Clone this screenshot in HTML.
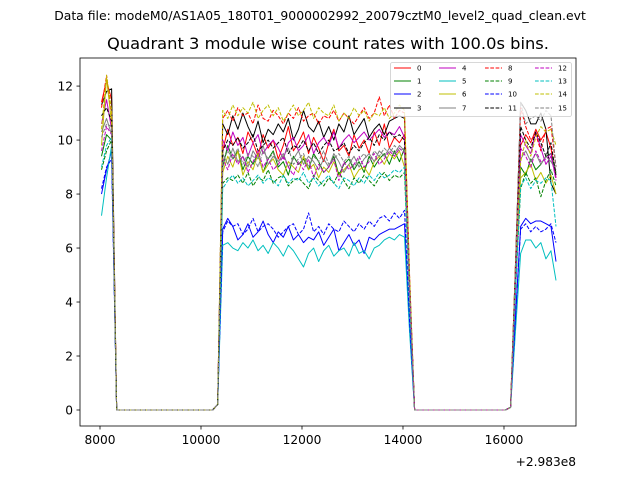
<!DOCTYPE html>
<html><head><meta charset="utf-8"><style>
html,body{margin:0;padding:0;background:#fff;}
svg{display:block;font-family:"DejaVu Sans","Liberation Sans",sans-serif;}
</style></head><body>
<svg id="chart" width="640" height="480" viewBox="0 0 640 480">
<rect x="0" y="0" width="640" height="480" fill="#fff"/>
<text x="320" y="20" text-anchor="middle" font-size="12.4">Data file: modeM0/AS1A05_180T01_9000002992_20079cztM0_level2_quad_clean.evt</text>
<text x="328" y="49" text-anchor="middle" font-size="16.3">Quadrant 3 module wise count rates with 100.0s bins.</text>
<g id="plot"></g>
<g id="axes"></g>
<g id="legend"></g>
</svg>
<script>
const binStart = 8030;
const binWidth = 100;
const gap1Zeros = 20;
const gap2Zeros = 19;
const xTicks = [8000, 10000, 12000, 14000, 16000];
const xTickLabels = ["8000", "10000", "12000", "14000", "16000"];
const yTicks = [0, 2, 4, 6, 8, 10, 12];
const yTickLabels = ["0", "2", "4", "6", "8", "10", "12"];
const seriesNames = ["0","1","2","3","4","5","6","7","8","9","10","11","12","13","14","15"];
const leftVals = [
[11.4,12.2,11.5],[9.4,10.2,10.0],[8.0,8.9,9.6],[11.3,11.8,11.9],
[10.6,11.5,10.4],[7.2,8.6,9.8],[9.8,12.3,10.6],[10.3,10.8,10.2],
[11.2,12.4,11.0],[8.9,9.6,10.0],[8.2,9.0,9.3],[10.9,11.2,10.7],
[9.6,10.5,10.2],[9.0,9.8,10.1],[10.4,12.4,11.1],[10.1,10.6,10.5]];
const midVals = [
[0.2,9.6,10.4,9.8,10.1,9.5,10.3,9.9,9.4,10.2,9.7,10.0,9.3,9.8,10.5,9.6,9.9,10.3,9.5,10.1,9.7,9.2,9.9,10.4,9.6,9.8,9.4,10.2,9.7,10.0,9.5,10.3,9.8,10.6,9.7,10.1,9.9,10.2,4.5],
[0.2,9.0,9.8,9.3,9.6,8.9,9.4,9.1,9.5,8.8,9.3,9.6,9.0,9.2,8.7,9.4,9.1,9.3,8.9,9.5,9.2,8.8,9.0,9.4,8.7,9.1,9.3,8.9,9.2,8.8,9.4,9.0,9.3,9.5,9.1,9.6,9.2,9.7,4.3],
[0.2,6.7,7.1,6.8,6.3,6.5,6.9,6.4,6.6,7.0,6.5,6.2,6.6,6.4,6.8,6.3,6.5,6.2,6.4,6.3,6.6,6.1,6.4,6.7,5.9,6.2,6.5,6.1,6.3,5.8,6.4,6.3,6.5,6.6,6.7,6.7,6.8,6.9,3.1],
[0.2,10.6,10.2,10.9,10.4,11.0,10.5,10.1,10.7,9.9,10.4,10.2,10.6,10.3,10.8,10.0,10.4,11.1,10.5,10.3,10.7,10.1,10.5,10.0,10.6,10.3,10.9,10.2,10.5,10.8,10.1,10.4,10.6,10.2,10.7,10.8,10.9,10.8,4.8],
[0.2,10.0,9.6,10.3,9.8,10.1,9.4,9.9,10.2,9.5,9.8,10.0,9.7,9.3,9.9,10.1,9.6,9.8,10.2,9.5,9.9,10.1,9.8,10.3,9.7,10.0,10.2,9.9,10.1,10.3,10.0,10.2,10.4,10.1,10.3,10.2,10.5,10.1,4.6],
[0.2,6.1,6.2,6.0,5.9,6.2,6.0,6.3,5.9,6.1,5.8,6.2,6.0,5.7,6.1,5.9,5.6,5.3,5.8,6.0,5.5,5.9,6.1,5.7,5.9,6.0,5.7,6.2,5.8,5.9,5.6,6.0,6.1,6.3,6.4,6.3,6.5,6.4,2.9],
[0.2,8.8,9.4,9.0,9.6,8.7,9.2,8.9,9.5,8.8,9.1,9.3,8.9,8.7,9.2,9.0,8.8,9.4,8.9,9.1,8.6,9.0,8.8,9.2,8.7,8.9,9.1,8.6,8.9,9.0,8.7,9.2,9.4,9.1,9.5,9.3,9.6,9.0,4.2],
[0.2,9.5,9.1,9.7,9.2,9.4,9.0,9.6,9.3,9.8,9.1,9.4,9.2,9.5,9.0,9.3,9.6,9.1,9.4,9.2,8.9,9.3,9.0,9.5,9.2,8.8,9.1,9.4,9.0,9.3,9.5,9.2,9.6,9.4,9.7,9.5,9.8,9.6,4.4],
[0.2,10.8,11.1,10.7,11.2,10.9,11.0,10.6,11.3,10.8,10.7,11.1,10.9,10.6,11.0,10.8,11.2,10.7,10.9,11.0,10.6,10.9,10.8,11.1,10.7,11.0,10.8,10.6,10.9,11.2,10.8,11.0,11.6,10.9,11.3,10.8,11.1,11.0,5.0],
[0.2,8.4,8.6,8.5,8.7,8.4,8.8,8.3,8.6,8.5,8.9,8.4,8.6,8.7,8.3,8.5,8.6,8.4,8.2,8.7,8.5,8.3,8.6,8.4,8.8,8.5,8.2,8.6,8.4,8.7,8.5,8.3,8.6,8.8,8.5,8.7,8.6,8.8,4.0],
[0.2,6.6,7.0,6.8,6.9,6.5,6.7,7.1,6.6,6.8,6.9,6.7,6.4,6.6,6.8,6.9,6.5,6.7,7.3,6.6,6.8,6.5,6.9,6.7,6.6,7.0,6.8,6.6,6.9,6.7,7.0,6.8,7.1,7.2,7.0,7.3,7.1,7.4,3.3],
[0.2,9.6,10.0,9.8,10.1,9.7,9.9,10.2,9.6,9.8,10.0,9.7,9.9,10.1,9.5,9.8,9.7,10.0,9.6,9.9,9.5,9.8,10.0,9.6,9.7,9.9,9.5,9.8,9.6,9.9,10.1,9.8,10.2,10.0,10.3,10.1,10.2,10.0,4.6],
[0.2,9.3,8.9,9.5,9.1,9.4,8.8,9.2,9.6,9.0,9.3,8.9,9.1,9.4,9.0,8.7,9.2,8.9,9.3,8.6,9.1,8.8,9.0,9.3,8.5,9.2,8.9,9.1,9.4,9.0,9.2,9.5,9.1,9.3,9.6,9.4,9.7,9.5,4.4],
[0.2,8.2,8.5,8.7,8.4,8.6,8.3,8.5,8.7,8.4,8.6,8.5,8.3,8.7,8.4,8.6,8.5,8.8,8.4,8.6,8.3,8.5,8.7,8.4,8.2,8.6,8.5,8.3,8.6,8.4,8.7,8.5,8.8,8.6,8.7,8.9,8.8,9.0,4.1],
[0.2,11.1,10.8,11.3,10.9,11.2,11.0,11.4,10.8,11.1,11.3,10.9,11.2,10.7,11.0,11.3,10.9,11.1,11.4,10.8,11.2,11.0,10.9,11.3,10.7,11.0,10.8,11.2,10.9,11.1,10.7,11.0,10.9,11.2,10.8,11.0,11.3,11.1,5.0],
[0.2,9.2,9.6,9.3,9.7,9.1,9.5,9.4,9.0,9.6,9.3,9.5,9.2,9.4,9.7,9.1,9.3,9.5,9.0,9.4,9.2,9.6,9.1,9.3,9.5,9.2,9.4,9.0,9.3,9.5,9.2,9.6,9.4,9.7,9.5,9.8,9.6,9.7,4.5]];
const rightVals = [
[0.1,5.0,9.8,10.2,9.9,10.4,10.0,10.3,9.7,8.6],
[0.1,4.5,9.0,8.7,9.3,8.9,9.1,9.4,9.5,8.8],
[0.1,3.5,6.8,7.1,6.9,7.0,7.0,6.9,6.8,5.5],
[0.1,5.5,11.4,11.1,10.6,10.6,11.0,10.4,8.4,8.0],
[0.1,5.0,10.2,9.8,9.5,10.3,9.7,9.1,9.4,8.6],
[0.1,3.0,5.8,6.3,6.3,6.0,6.2,5.6,5.9,4.8],
[0.1,4.5,8.6,8.8,9.1,8.5,8.8,8.4,8.7,8.0],
[0.1,5.0,9.3,9.6,9.2,9.5,9.1,9.4,9.2,8.9],
[0.1,5.5,11.2,10.5,10.0,10.2,9.6,10.4,10.5,9.0],
[0.1,4.5,8.2,8.8,8.4,8.6,7.9,8.5,8.9,8.3],
[0.1,3.5,6.7,6.9,6.6,6.8,6.6,6.7,6.9,6.2],
[0.1,5.0,10.5,10.0,9.7,10.3,9.9,9.4,9.9,8.7],
[0.1,4.5,9.7,9.4,9.0,9.6,9.2,9.3,9.5,8.5],
[0.1,4.5,8.3,8.6,8.2,8.5,8.4,8.6,8.5,6.8],
[0.1,5.5,9.2,10.0,9.4,10.1,10.5,10.3,10.4,9.8],
[0.1,5.5,11.4,10.6,10.8,10.9,10.7,11.1,10.9,9.0]];

const colors = ["#ff0000","#008000","#0000ff","#000000","#bf00bf","#00bfbf","#bfbf00","#808080"];
const NS = "http://www.w3.org/2000/svg";
const L = 80, R = 576, T = 58, B = 426;
const xMin = 7604, xMax = 17426, yMin = -0.593, yMax = 13.04;
function xs(v){ return L + (v - xMin) / (xMax - xMin) * (R - L); }
function ys(v){ return B - (v - yMin) / (yMax - yMin) * (B - T); }
function mk(tag, attrs, parent){ const e = document.createElementNS(NS, tag); for (const k in attrs) e.setAttribute(k, attrs[k]); parent.appendChild(e); return e; }

const plot = document.getElementById('plot');
const axes = document.getElementById('axes');
const legend = document.getElementById('legend');

function zeros(n){ const a = []; for (let i = 0; i < n; i++) a.push(0); return a; }

for (let s = 0; s < 16; s++) {
  const vals = leftVals[s].concat(zeros(gap1Zeros), midVals[s], zeros(gap2Zeros), rightVals[s]);
  let d = "";
  vals.forEach((v, i) => { d += (i ? "L" : "M") + xs(binStart + i * binWidth).toFixed(2) + "," + ys(v).toFixed(2); });
  const p = mk('path', {d: d, fill: "none", stroke: colors[s % 8], "stroke-width": 1, "stroke-linejoin": "round"}, plot);
  if (s >= 8) p.setAttribute('stroke-dasharray', '3.7,1.6');
  
  
}

const frame = mk('rect', {x: L, y: T, width: R - L, height: B - T, fill: "none", stroke: "#000", "stroke-width": 0.8}, axes);



xTicks.forEach((t, i) => {
  const x = xs(t);
  const tk = mk('line', {x1: x, x2: x, y1: B, y2: B + 3.5, stroke: "#000", "stroke-width": 0.8}, axes);
  
  
  const tx = mk('text', {x: x, y: B + 18, "text-anchor": "middle", "font-size": 12.2}, axes);
  tx.textContent = xTickLabels[i];
  
  
});
yTicks.forEach((t, i) => {
  const y = ys(t);
  const tk = mk('line', {x1: L - 3.5, x2: L, y1: y, y2: y, stroke: "#000", "stroke-width": 0.8}, axes);
  
  
  const tx = mk('text', {x: L - 7, y: y + 4.5, "text-anchor": "end", "font-size": 12.2}, axes);
  tx.textContent = yTickLabels[i];
  
  
});
const off = mk('text', {x: R, y: 466, "text-anchor": "end", "font-size": 12.2}, axes);
off.textContent = "+2.983e8";



const lb = mk('rect', {x: 390.5, y: 62.5, width: 181, height: 54, fill: "#fff", "fill-opacity": 0.8, stroke: "#ccc", "stroke-width": 0.8, rx: 2}, legend);


const colX = [394, 439, 485, 535];
const rowY = [68, 81, 94, 108];
for (let s = 0; s < 16; s++) {
  const cx = colX[Math.floor(s / 4)], cy = rowY[s % 4];
  const ln = mk('line', {x1: cx, x2: cx + 17, y1: cy, y2: cy, stroke: colors[s % 8], "stroke-width": 1}, legend);
  if (s >= 8) ln.setAttribute('stroke-dasharray', '3.7,1.6');
  
  
  const tx = mk('text', {x: cx + 23, y: cy + 2.5, "font-size": 7}, legend);
  tx.textContent = seriesNames[s];
  
  
}
</script>
</body></html>
